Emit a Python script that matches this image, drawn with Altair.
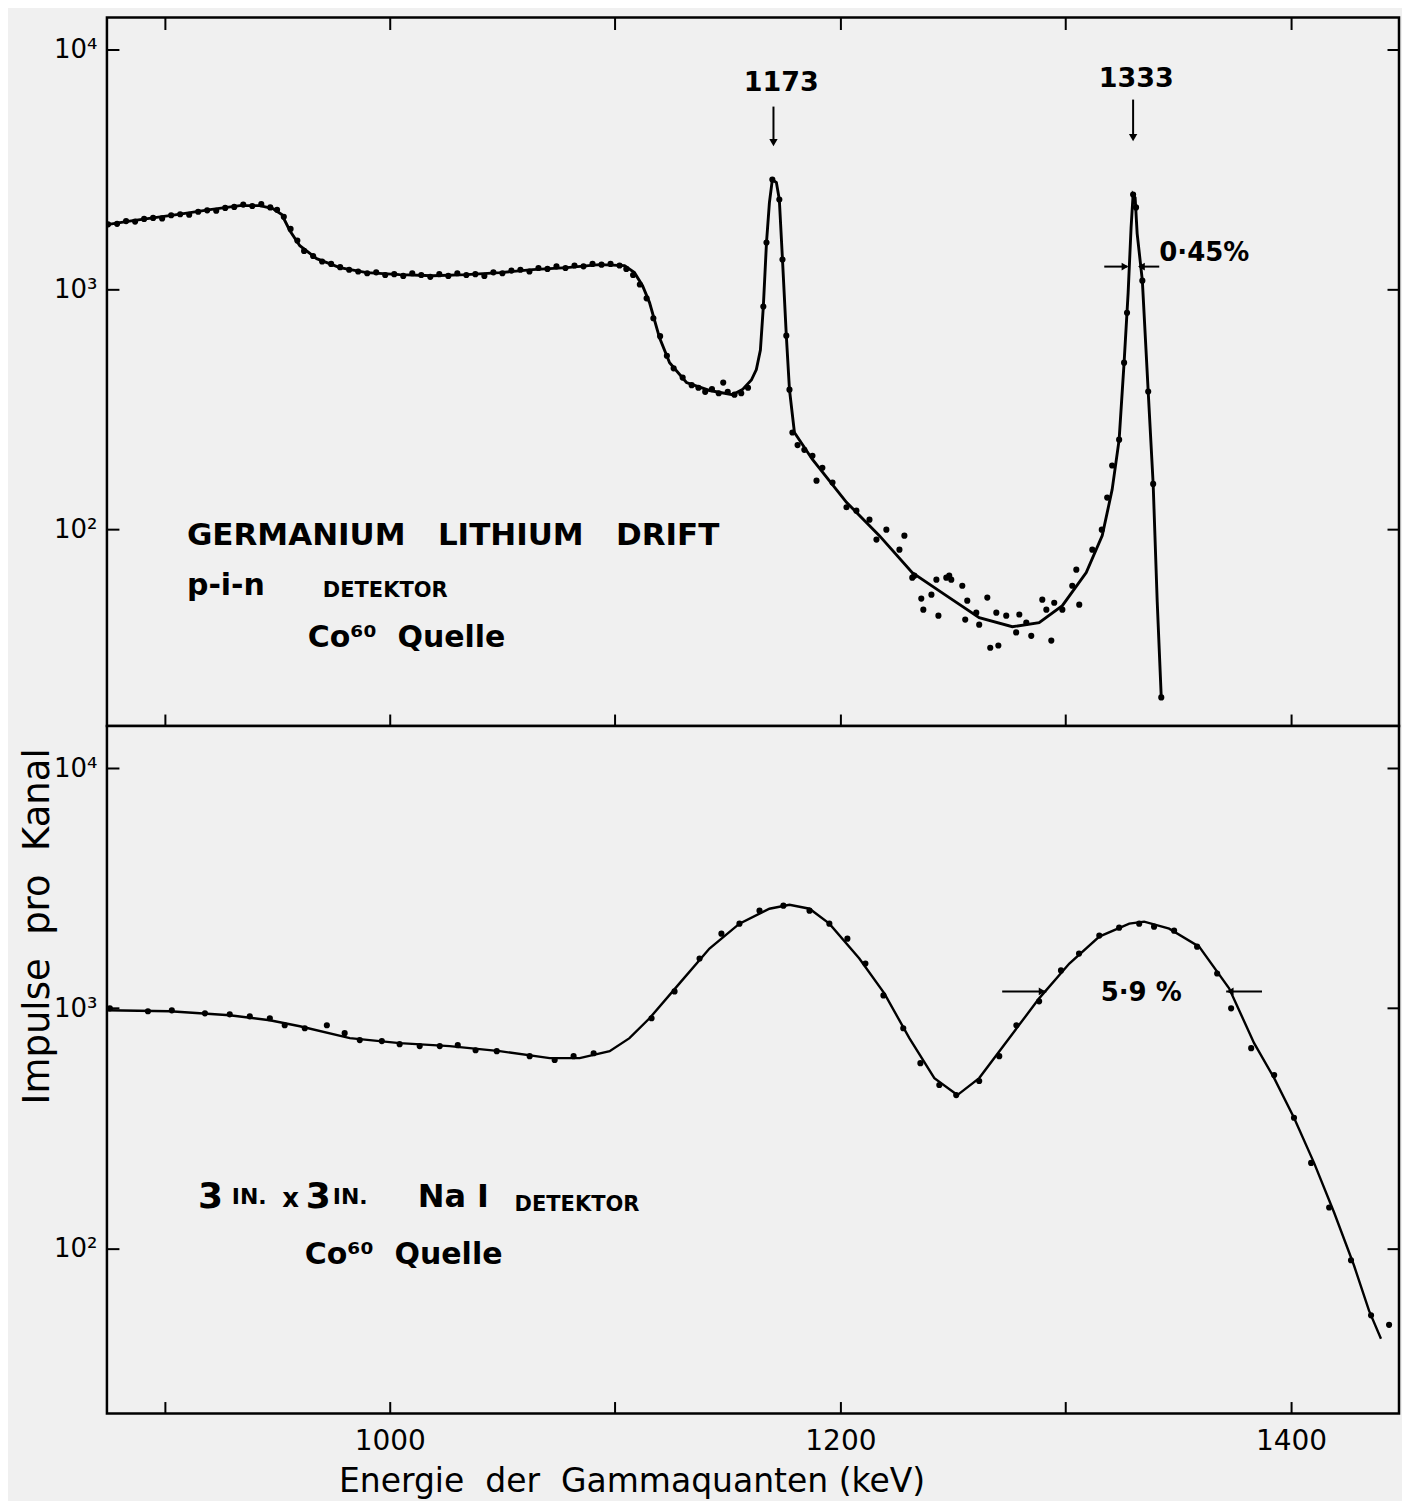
import altair as alt
import pandas as pd

FONT = "DejaVu Sans"
BG = "#f0f0f0"
NB = "\u00a0"

# ---------------- Ge(Li) p-i-n detector, Co-60 (top panel) ----------------
ge_curve_e = [874.5, 886.0, 905.5, 920.2, 933.5, 942.4, 948.1, 952.1, 955.7, 960.1,
              967.6, 977.8, 989.8, 1004.4, 1019.1, 1034.1, 1048.8, 1063.4, 1078.5, 1093.1,
              1104.2, 1108.6, 1112.2, 1115.3, 1119.7, 1124.2, 1131.7, 1141.9, 1152.1, 1156.5,
              1160.5, 1162.7, 1164.5, 1165.8, 1167.2, 1168.5, 1169.8, 1171.6, 1172.9, 1174.3,
              1176.0, 1177.4, 1179.6, 1187.6, 1202.7, 1217.3, 1231.9, 1247.0, 1261.6, 1276.3,
              1288.2, 1298.5, 1309.1, 1316.2, 1320.6, 1323.7, 1325.9, 1327.7, 1329.0, 1329.9,
              1330.8, 1331.7, 1334.0, 1336.6, 1338.8, 1340.6, 1342.4]
ge_curve_v = [1866, 1939, 2054, 2154, 2239, 2239, 2177, 2054, 1760, 1524,
              1346, 1235, 1177, 1155, 1143, 1155, 1177, 1211, 1235, 1271,
              1259, 1177, 1039, 883, 631, 496, 410, 380, 365, 383,
              420, 464, 560, 850, 1570, 2304, 2873, 2792, 2371, 1334,
              643, 383, 254, 196, 130, 94.4, 66.2, 53.1, 43.0, 39.4,
              41.0, 48.2, 66.2, 94.4, 146.8, 237, 496, 972, 1812, 2489,
              2417, 1711, 1090, 376, 155, 50.1, 19.95]

ge_meas_e = [875, 879, 883, 887, 891, 895, 899, 903, 907, 911, 915, 919, 923, 927, 931, 935,
             939, 943, 947, 950, 953, 956, 959, 962, 966, 970, 974, 978, 982, 986, 990, 994,
             998, 1002, 1006, 1010, 1014, 1018, 1022, 1026, 1030, 1034, 1038, 1042, 1046, 1050,
             1054, 1058, 1062, 1066, 1070, 1074, 1078, 1082, 1086, 1090, 1094, 1098, 1102, 1105,
             1108, 1111, 1114, 1117, 1120, 1123, 1126, 1130, 1134, 1137, 1140, 1143, 1146, 1148,
             1150, 1153, 1156, 1159,
             1165.8, 1167.2, 1169.8, 1172.9, 1174.3, 1176.0, 1177.4, 1178.7, 1181, 1184,
             1187.6, 1189.4, 1192.0, 1196.5, 1202.7, 1207.1, 1212.9, 1216.0, 1220.4, 1226.2,
             1228.4, 1231.9, 1232.8, 1235.9, 1236.8, 1240.4, 1242.6, 1243.5, 1247.0, 1248.3,
             1249.2, 1254.1, 1255.4, 1256.3, 1260.3, 1261.6, 1265.2, 1266.5, 1269.2, 1270.1,
             1273.6, 1278.0, 1279.4, 1282.5, 1284.7, 1289.6, 1291.4, 1293.6, 1294.9, 1298.5,
             1302.9, 1304.7, 1306.0, 1311.8, 1316.0, 1318.4, 1320.6, 1323.7, 1325.9, 1327.2,
             1329.9, 1331.2, 1334.0, 1336.6, 1338.8, 1342.4]
ge_meas_v = [1870, 1880, 1930, 1920, 1970, 1990, 1980, 2040, 2060, 2050, 2110, 2140, 2130, 2190, 2210, 2260,
             2230, 2270, 2200, 2150, 2010, 1790, 1600, 1450, 1380, 1310, 1280, 1240, 1210, 1190, 1170, 1180,
             1150, 1160, 1140, 1170, 1150, 1130, 1160, 1140, 1170, 1150, 1160, 1140, 1180, 1170,
             1200, 1210, 1190, 1230, 1220, 1250, 1230, 1260, 1250, 1280, 1270, 1280, 1260, 1220,
             1150, 1050, 920, 760, 640, 530, 470, 430, 400, 390, 375, 385, 370, 410,
             375, 365, 370, 390,
             850, 1570, 2873, 2371, 1334, 643, 383, 254, 225, 215,
             203, 160, 181, 157, 124, 120, 110, 90.9, 100, 82.5,
             94.4, 63.1, 64.3, 51.6, 46.4, 53.6, 61.9, 43.8, 63.1, 64.3,
             61.9, 58.4, 42.2, 50.6, 45.1, 40.2, 52.1, 32.2, 45.1, 32.9,
             43.8, 37.3, 44.3, 41.0, 36.1, 51.1, 46.4, 34.5, 49.6, 46.4,
             58.4, 68.1, 48.7, 82.5, 100, 136, 185, 237, 496, 800,
             2489, 2200, 1090, 376, 155, 20]

# ---------------- 3 in. x 3 in. NaI detector, Co-60 (bottom panel) ----------------
nai_curve_e = [874.5, 902.4, 929.0, 946.8, 960.1, 982.3, 1004.4, 1026.6, 1048.8, 1071.0,
               1084.3, 1097.6, 1106.4, 1115.3, 1128.6, 1141.9, 1155.2, 1168.5, 1177.4, 1186.3,
               1195.1, 1208.4, 1219.5, 1230.6, 1241.7, 1251.9, 1261.6, 1274.9, 1288.2, 1301.6,
               1314.9, 1328.2, 1334.8, 1345.9, 1359.2, 1372.5, 1383.6, 1392.5, 1401.3, 1410.2,
               1419.1, 1427.9, 1434.6, 1439.9]
nai_curve_v = [981, 972, 935, 892, 842, 751, 716, 696, 663, 620,
               620, 663, 751, 909, 1270, 1774, 2253, 2600, 2701, 2600,
               2253, 1613, 1154, 751, 512, 435, 512, 751, 1100, 1537,
               1990, 2253, 2296, 2147, 1807, 1211, 716, 512, 350, 227,
               141, 85, 55, 42]

nai_meas_e = [875.8, 892.7, 903.3, 918.0, 929.0, 937.9, 946.8, 953.4, 962.3, 972.1,
              980.0, 986.7, 996.5, 1004.4, 1013.3, 1022.2, 1030.2, 1038.1, 1047.5, 1062.1,
              1073.2, 1081.6, 1090.5, 1116.2, 1126.4, 1137.5, 1147.2, 1155.2, 1164.1, 1174.7,
              1186.3, 1195.1, 1203.1, 1211.1, 1219.1, 1227.9, 1235.5, 1243.9, 1251.4, 1261.6,
              1270.5, 1278.1, 1288.2, 1297.9, 1305.9, 1314.9, 1323.7, 1332.6, 1339.2, 1348.1,
              1358.3, 1367.2, 1373.4, 1382.3, 1392.5, 1401.3, 1408.9, 1416.9, 1426.6, 1435.5,
              1443.5]
nai_meas_v = [1000, 972, 981, 953, 944, 926, 909, 850, 826, 850,
              788, 737, 730, 709, 696, 696, 702, 669, 663, 632,
              609, 632, 650, 909, 1176, 1612, 2047, 2253, 2552, 2677,
              2552, 2253, 1950, 1537, 1132, 826, 591, 479, 435, 498,
              632, 850, 1069, 1438, 1691, 2009, 2168, 2253, 2189, 2106,
              1807, 1397, 1000, 682, 527, 350, 227, 148, 89.2, 52.6,
              48.0]

# ---------------- axes ----------------
x_ticks = [900, 1000, 1100, 1200, 1300, 1400]
x_labels = [1000, 1200, 1400]
y_ticks = [100, 1000, 10000]
y_tick_text = ["10²", "10³", "10⁴"]

X_DOM = [874.5, 1447.9]
TOP_DOM = [15.2, 13600]
BOT_DOM = [20.5, 15000]
W = 1293
H_TOP = 709
H_BOT = 688

# ---------------- annotations ----------------
top_text_left = pd.DataFrame({
    "E": [910.0, 910.0, 970.3, 963.6, 1341.5],
    "v": [94.4, 58.4, 55.7, 35.2, 1426],
    "t": [f"GERMANIUM{NB*3}LITHIUM{NB*3}DRIFT", "p-i-n", "DETEKTOR",
          f"Co⁶⁰{NB*2}Quelle", "0·45%"],
    "s": [31, 30, 21, 30, 26],
})
top_text_center = pd.DataFrame({
    "E": [1173.8, 1331.3],
    "v": [7286, 7570],
    "t": ["1173", "1333"],
    "s": [27, 27],
})
top_vrules = pd.DataFrame({"E": [1170.3, 1329.9], "v": [5788, 6190], "v2": [4098, 4297]})
top_vheads = pd.DataFrame({"E": [1170.3, 1329.9], "v": [4098, 4297]})
top_hrules = pd.DataFrame({"E": [1317.1, 1332.6], "E2": [1327.3, 1341.5], "v": [1247, 1247]})
top_head_r = pd.DataFrame({"E": [1326.3], "v": [1247]})
top_head_l = pd.DataFrame({"E": [1333.6], "v": [1247]})

bot_text_left = pd.DataFrame({
    "E": [914.9, 929.9, 952.3, 962.7, 974.7, 1012.4, 1055.4, 962.3],
    "v": [163, 163, 160, 163, 163, 163, 152, 93.6],
    "t": ["3", "IN.", "x", "3", "IN.", "Na I", "DETEKTOR", f"Co⁶⁰{NB*2}Quelle"],
    "s": [36, 22, 26, 36, 22, 32, 21, 30],
})
bot_text_center = pd.DataFrame({"E": [1333.5], "v": [1154], "t": ["5·9 %"], "s": [26]})
bot_hrules = pd.DataFrame({"E": [1271.8, 1371.2], "E2": [1291.4, 1387.1], "v": [1176, 1176]})
bot_head_r = pd.DataFrame({"E": [1289.5], "v": [1176]})
bot_head_l = pd.DataFrame({"E": [1373.0], "v": [1176]})

y_label_expr = " : ".join(
    f"datum.value == {v} ? '{t}'" for v, t in zip(y_ticks, y_tick_text)
) + " : ''"
x_label_expr = f"indexof({x_labels}, datum.value) >= 0 ? format(datum.value, 'd') : ''"


def xs():
    return alt.Scale(domain=X_DOM, nice=False, zero=False)


def ys(dom):
    return alt.Scale(type="log", domain=dom, nice=False)


TICK = dict(domain=False, grid=False, tickColor="black", tickWidth=2, minExtent=0)


def panel(curve_e, curve_v, meas_e, meas_v, dom, height, bottom,
          text_left, text_center, vrules, vheads, hrules, head_r, head_l):
    curve = pd.DataFrame({"E": curve_e, "v": curve_v})
    meas = pd.DataFrame({"E": meas_e, "v": meas_v})

    if bottom:
        xb_axis = alt.Axis(values=x_ticks, tickSize=12, offset=-12,
                           labelExpr=x_label_expr, labelFont=FONT, labelFontSize=28,
                           labelColor="black", labelPadding=14,
                           title=f"Energie{NB*2}der{NB*2}Gammaquanten (keV)", titleFont=FONT,
                           titleFontSize=33, titleFontWeight="normal", titleColor="black",
                           titlePadding=10, titleX=525, titleAlign="center", **TICK)
        yl_axis = alt.Axis(values=y_ticks, tickSize=12, offset=-12,
                           labelExpr=y_label_expr, labelFont=FONT, labelFontSize=26,
                           labelColor="black", labelPadding=10,
                           title=f"Impulse{NB*2}pro{NB*2}Kanal", titleFont=FONT, titleFontSize=37,
                           titleFontWeight="normal", titleColor="black", titleX=-81,
                           titleY=200, titleAlign="center", titleBaseline="middle",
                           titleAngle=270, **TICK)
        xt_axis = None
    else:
        xb_axis = alt.Axis(values=x_ticks, tickSize=24, offset=-12,
                           labels=False, title=None, **TICK)
        yl_axis = alt.Axis(values=y_ticks, tickSize=12, offset=-12,
                           labelExpr=y_label_expr, labelFont=FONT, labelFontSize=26,
                           labelColor="black", labelPadding=10, title=None, **TICK)
        xt_axis = alt.Axis(orient="top", values=x_ticks, tickSize=12, offset=-12,
                           labels=False, title=None, **TICK)
    yr_axis = alt.Axis(orient="right", values=y_ticks, tickSize=12, offset=-12,
                       labels=False, title=None, **TICK)

    sw = 2.4 if bottom else 2.9
    line = alt.Chart(curve).mark_line(color="black", strokeWidth=sw, clip=True).encode(
        x=alt.X("E:Q", scale=xs(), axis=xb_axis),
        y=alt.Y("v:Q", scale=ys(dom), axis=yl_axis),
    )
    pts = alt.Chart(meas).mark_circle(color="black", size=38, opacity=1, clip=True).encode(
        x=alt.X("E:Q", scale=xs(), axis=xt_axis),
        y=alt.Y("v:Q", scale=ys(dom), axis=yr_axis),
    )

    def enc(df, mark):
        return alt.Chart(df).mark_text(**mark).encode(
            x=alt.X("E:Q", scale=xs(), axis=None),
            y=alt.Y("v:Q", scale=ys(dom), axis=None),
            text="t:N",
            size=alt.Size("s:Q", scale=None, legend=None),
        )

    layers = [line, pts,
              enc(text_left, dict(align="left", baseline="middle", font=FONT,
                                  fontWeight="bold", color="black")),
              enc(text_center, dict(align="center", baseline="middle", font=FONT,
                                    fontWeight="bold", color="black"))]
    if vrules is not None:
        layers.append(alt.Chart(vrules).mark_rule(color="black", strokeWidth=2).encode(
            x=alt.X("E:Q", scale=xs(), axis=None),
            y=alt.Y("v:Q", scale=ys(dom), axis=None), y2="v2:Q"))
        layers.append(alt.Chart(vheads).mark_point(shape="triangle-down", filled=True,
                                                   color="black", size=70, opacity=1).encode(
            x=alt.X("E:Q", scale=xs(), axis=None),
            y=alt.Y("v:Q", scale=ys(dom), axis=None)))
    layers.append(alt.Chart(hrules).mark_rule(color="black", strokeWidth=2).encode(
        x=alt.X("E:Q", scale=xs(), axis=None), x2="E2:Q",
        y=alt.Y("v:Q", scale=ys(dom), axis=None)))
    layers.append(alt.Chart(head_r).mark_point(shape="triangle-right", filled=True,
                                               color="black", size=60, opacity=1).encode(
        x=alt.X("E:Q", scale=xs(), axis=None),
        y=alt.Y("v:Q", scale=ys(dom), axis=None)))
    layers.append(alt.Chart(head_l).mark_point(shape="triangle-left", filled=True,
                                               color="black", size=60, opacity=1).encode(
        x=alt.X("E:Q", scale=xs(), axis=None),
        y=alt.Y("v:Q", scale=ys(dom), axis=None)))

    return alt.layer(*layers).resolve_axis(x="independent", y="independent").properties(
        width=W, height=height)


top = panel(ge_curve_e, ge_curve_v, ge_meas_e, ge_meas_v, TOP_DOM, H_TOP, False,
            top_text_left, top_text_center, top_vrules, top_vheads, top_hrules,
            top_head_r, top_head_l)
bot = panel(nai_curve_e, nai_curve_v, nai_meas_e, nai_meas_v, BOT_DOM, H_BOT, True,
            bot_text_left, bot_text_center, None, None, bot_hrules, bot_head_r, bot_head_l)

chart = alt.vconcat(top, bot, spacing=0, bounds="flush").properties(
    background=BG,
    padding={"left": 9, "top": 6, "right": 0, "bottom": 0},
).configure_view(stroke="black", strokeWidth=2.5, fill=BG)

chart.save("out.html", embed_options={"renderer": "svg", "actions": False})
